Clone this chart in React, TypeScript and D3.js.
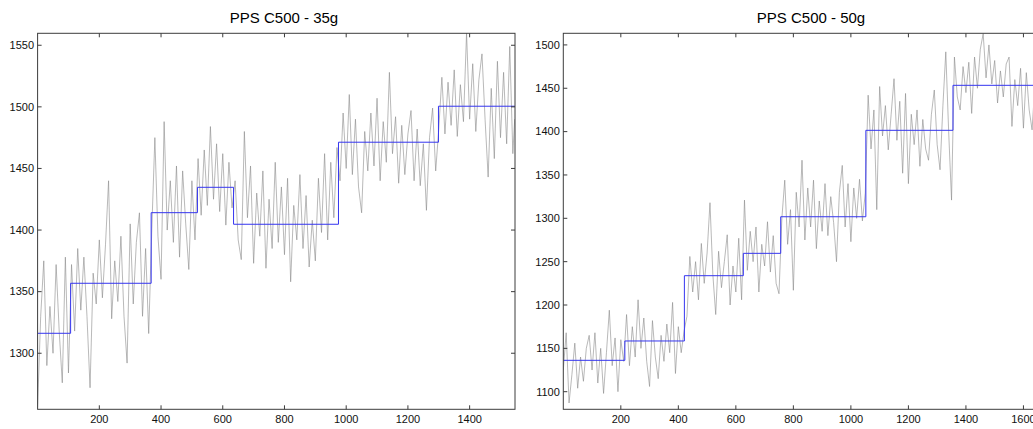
import * as d3 from "d3";

// PPS C500 - 35g : raw signal [sample, value]
const signal35: [number, number][] = [
  [0, 1256], [10, 1330], [20, 1375], [30, 1290], [40, 1338], [50, 1300], [60, 1372], [70, 1318], [80, 1276], [90, 1378], [100, 1284],
  [110, 1372], [120, 1318], [130, 1385], [140, 1335], [150, 1378], [160, 1330], [170, 1272], [180, 1365], [190, 1340], [200, 1392],
  [210, 1345], [220, 1388], [230, 1440], [240, 1328], [250, 1375], [260, 1342], [270, 1395], [280, 1330], [290, 1292], [300, 1405],
  [310, 1340], [320, 1390], [330, 1414], [340, 1330], [350, 1385], [360, 1316],
  [370, 1400], [380, 1475], [390, 1395], [400, 1360], [410, 1488], [420, 1400], [430, 1440], [440, 1390], [450, 1452], [460, 1378],
  [470, 1448], [480, 1405], [490, 1368], [500, 1440], [510, 1392],
  [520, 1458], [530, 1412], [540, 1465], [550, 1420], [560, 1484], [570, 1425], [580, 1470], [590, 1415], [600, 1462], [610, 1404],
  [620, 1455], [630, 1418],
  [640, 1440], [650, 1392], [660, 1376], [670, 1480], [680, 1410], [690, 1452], [700, 1373], [710, 1430], [720, 1395], [730, 1448],
  [740, 1369], [750, 1425], [760, 1385], [770, 1455], [780, 1390], [790, 1435], [800, 1380], [810, 1442], [820, 1358], [830, 1420],
  [840, 1392], [850, 1445], [860, 1385], [870, 1428], [880, 1370], [890, 1408], [900, 1375], [910, 1442], [920, 1398], [930, 1462],
  [940, 1392], [950, 1455], [960, 1410], [970, 1467],
  [980, 1440], [990, 1495], [1000, 1450], [1010, 1510], [1020, 1445], [1030, 1490], [1040, 1435], [1050, 1414], [1060, 1480], [1070, 1448],
  [1080, 1495], [1090, 1452], [1100, 1507], [1110, 1440], [1120, 1488], [1130, 1455], [1140, 1528], [1150, 1462], [1160, 1492], [1170, 1438],
  [1180, 1485], [1190, 1445], [1200, 1478], [1210, 1497], [1220, 1440], [1230, 1482], [1240, 1436], [1250, 1470], [1260, 1416], [1270, 1475],
  [1280, 1499], [1290, 1448],
  [1300, 1482], [1310, 1524], [1320, 1478], [1330, 1520], [1340, 1485], [1350, 1530], [1360, 1476], [1370, 1518], [1380, 1488], [1390, 1560],
  [1400, 1490], [1410, 1535], [1420, 1480], [1430, 1522], [1440, 1543], [1450, 1490], [1460, 1443], [1470, 1515], [1480, 1458], [1490, 1537],
  [1500, 1475], [1510, 1528], [1520, 1470], [1530, 1549], [1540, 1462], [1546, 1490],
];

// estimated plateaus
const breaks35 = [0, 107, 368, 518, 635, 975, 1299, 1547];
const levels35 = [1316.2, 1356.8, 1414.1, 1434.7, 1404.7, 1471.3, 1500.5];

// PPS C500 - 50g : raw signal [sample, value]
const signal50: [number, number][] = [
  [0, 1125], [10, 1168], [20, 1087], [30, 1120], [40, 1156], [50, 1104], [60, 1140], [70, 1112], [80, 1150], [90, 1165], [100, 1125],
  [110, 1168], [120, 1110], [130, 1150], [140, 1098], [150, 1145], [160, 1194], [170, 1130], [180, 1162], [190, 1100], [200, 1160], [210, 1135],
  [220, 1189], [230, 1130], [240, 1175], [250, 1140], [260, 1206], [270, 1150], [280, 1185], [290, 1135], [300, 1106], [310, 1182],
  [320, 1140], [330, 1115], [340, 1165], [350, 1135], [360, 1178], [370, 1145], [380, 1203], [390, 1121], [400, 1175], [410, 1145], [420, 1170],
  [430, 1187], [440, 1256], [450, 1215], [460, 1250], [470, 1206], [480, 1271], [490, 1225], [500, 1260], [510, 1318], [520, 1235],
  [530, 1189], [540, 1262], [550, 1220], [560, 1250], [570, 1281], [580, 1200], [590, 1245], [600, 1215], [610, 1277], [620, 1206],
  [630, 1321], [640, 1240], [650, 1285], [660, 1250], [670, 1290], [680, 1215], [690, 1270], [700, 1245], [710, 1296], [720, 1238],
  [730, 1280], [740, 1225], [750, 1213],
  [760, 1300], [770, 1344], [780, 1270], [790, 1310], [800, 1217], [810, 1330], [820, 1290], [830, 1367], [840, 1275], [850, 1335],
  [860, 1290], [870, 1344], [880, 1265], [890, 1320], [900, 1285], [910, 1340], [920, 1280], [930, 1325], [940, 1295], [950, 1250],
  [960, 1330], [970, 1361], [980, 1290], [990, 1340], [1000, 1273], [1010, 1335], [1020, 1300], [1030, 1345], [1040, 1297], [1050, 1329],
  [1060, 1442], [1070, 1380], [1080, 1425], [1090, 1310], [1100, 1452], [1110, 1395], [1120, 1430], [1130, 1379], [1140, 1420], [1150, 1461],
  [1160, 1390], [1170, 1435], [1180, 1352], [1190, 1444], [1200, 1340], [1210, 1420], [1220, 1385], [1230, 1425], [1240, 1360], [1250, 1414],
  [1260, 1380], [1270, 1367], [1280, 1420], [1290, 1448], [1300, 1385], [1310, 1356], [1320, 1430], [1330, 1492], [1340, 1400], [1350, 1321],
  [1360, 1486], [1370, 1440], [1380, 1425], [1390, 1475], [1400, 1445], [1410, 1480], [1420, 1421], [1430, 1486], [1440, 1450], [1450, 1495],
  [1460, 1513], [1470, 1462], [1480, 1500], [1490, 1455], [1500, 1482], [1510, 1433], [1520, 1470], [1530, 1440], [1540, 1478], [1550, 1486],
  [1560, 1406], [1570, 1460], [1580, 1430], [1590, 1473], [1600, 1404], [1610, 1468], [1620, 1425], [1630, 1402], [1640, 1455], [1650, 1420],
  [1660, 1450],
];

const breaks50 = [0, 214, 421, 626, 756, 1052, 1355, 1668];
const levels50 = [1136.2, 1158.5, 1233.8, 1259.6, 1301.8, 1401.5, 1453.4];

const xTicks35 = [200, 400, 600, 800, 1000, 1200, 1400];
const yTicks35 = [1300, 1350, 1400, 1450, 1500, 1550];
const xTicks50 = [200, 400, 600, 800, 1000, 1200, 1400, 1600];
const yTicks50 = [1100, 1150, 1200, 1250, 1300, 1350, 1400, 1450, 1500];

const FONT = "'Liberation Sans', Arial, Helvetica, sans-serif";
const AXIS = "#3c3c3c";

type PanelProps = {
  id: string;
  title: string;
  titleX: number;
  left: number;
  right: number;
  xDomain: [number, number];
  yDomain: [number, number];
  signal: [number, number][];
  breaks: number[];
  levels: number[];
  xTicks: number[];
  yTicks: number[];
};

function Panel(p: PanelProps) {
  const top = 33.3;
  const bottom = 409.3;
  const x = d3.scaleLinear().domain(p.xDomain).range([p.left, p.right]);
  const y = d3.scaleLinear().domain(p.yDomain).range([bottom, top]);

  const line = d3
    .line<[number, number]>()
    .x((d) => x(d[0]))
    .y((d) => y(d[1]));

  const stepPts: [number, number][] = p.levels.map((lv, i) => [p.breaks[i], lv]);
  stepPts.push([p.breaks[p.breaks.length - 1], p.levels[p.levels.length - 1]]);
  const stepLine = d3
    .line<[number, number]>()
    .x((d) => x(d[0]))
    .y((d) => y(d[1]))
    .curve(d3.curveStepAfter);

  const tl = 4;

  return (
    <g>
      <defs>
        <clipPath id={p.id}>
          <rect x={p.left} y={top} width={p.right - p.left} height={bottom - top} />
        </clipPath>
      </defs>
      <text
        x={p.titleX}
        y={22.7}
        textAnchor="middle"
        fontFamily={FONT}
        fontSize={15}
        fill="#000"
      >
        {p.title}
      </text>
      <g clipPath={`url(#${p.id})`}>
        <path d={line(p.signal) || ""} fill="none" stroke="#8a8a8a" strokeWidth={0.6} />
        <path d={stepLine(stepPts) || ""} fill="none" stroke="#3535f0" strokeWidth={1} />
      </g>
      <rect
        x={p.left}
        y={top}
        width={p.right - p.left}
        height={bottom - top}
        fill="none"
        stroke={AXIS}
        strokeWidth={1}
      />
      {p.xTicks.map((t) => (
        <g key={"x" + t}>
          <line x1={x(t)} x2={x(t)} y1={bottom} y2={bottom - tl} stroke={AXIS} />
          <line x1={x(t)} x2={x(t)} y1={top} y2={top + tl} stroke={AXIS} />
          <text
            x={x(t)}
            y={423.3}
            textAnchor="middle"
            fontFamily={FONT}
            fontSize={11}
            fill="#111"
          >
            {t}
          </text>
        </g>
      ))}
      {p.yTicks.map((t) => (
        <g key={"y" + t}>
          <line x1={p.left} x2={p.left + tl} y1={y(t)} y2={y(t)} stroke={AXIS} />
          <line x1={p.right} x2={p.right - tl} y1={y(t)} y2={y(t)} stroke={AXIS} />
          <text
            x={p.left - 3.5}
            y={y(t)}
            dy="0.35em"
            textAnchor="end"
            fontFamily={FONT}
            fontSize={11}
            fill="#111"
          >
            {t}
          </text>
        </g>
      ))}
    </g>
  );
}

export default function App() {
  return (
    <svg
      width={1033}
      height={429}
      style={{ position: "absolute", left: 0, top: 0, background: "#fff" }}
    >
      <rect width={1033} height={429} fill="#fff" />
      <Panel
        id="clip35"
        title="PPS C500 - 35g"
        titleX={284}
        left={37.6}
        right={515}
        xDomain={[0, 1547]}
        yDomain={[1254.5, 1559.7]}
        signal={signal35}
        breaks={breaks35}
        levels={levels35}
        xTicks={xTicks35}
        yTicks={yTicks35}
      />
      <Panel
        id="clip50"
        title="PPS C500 - 50g"
        titleX={811}
        left={563.3}
        right={1043}
        xDomain={[0, 1668]}
        yDomain={[1079.7, 1513.4]}
        signal={signal50}
        breaks={breaks50}
        levels={levels50}
        xTicks={xTicks50}
        yTicks={yTicks50}
      />
    </svg>
  );
}
